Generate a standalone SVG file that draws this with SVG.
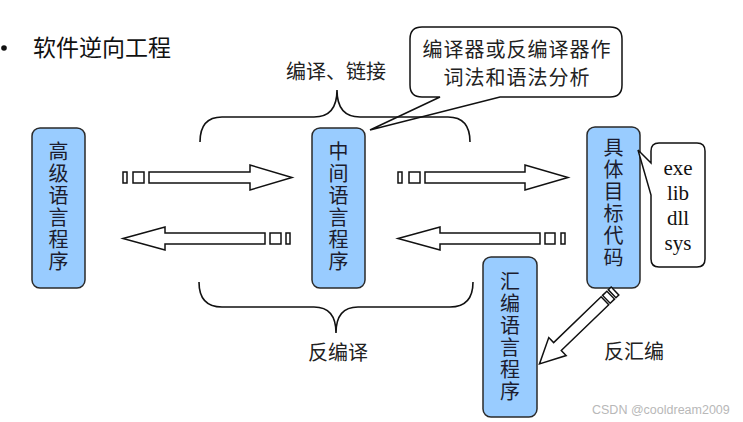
<svg xmlns="http://www.w3.org/2000/svg" width="743" height="422" viewBox="0 0 743 422">
<style>
.node{fill:#99CCFF;stroke:#2a2a2a;stroke-width:1.5}
.nt{font-family:"Noto Sans CJK SC",sans-serif;font-size:20px;fill:#1c1c2e;text-anchor:middle}
.lbl{font-family:"Noto Sans CJK SC",sans-serif;font-size:20px;fill:#222;text-anchor:middle}
.ol{fill:#fff;stroke:#111;stroke-width:1.5;stroke-linejoin:miter}
.br{fill:none;stroke:#111;stroke-width:1.6}
.ser{font-family:"Liberation Serif",serif;font-size:21px;fill:#111;text-anchor:middle}
</style>
<rect width="743" height="422" fill="#fff"/>
<g id="title">
<circle cx="4" cy="48" r="2.8" fill="#111"/>
<text x="33" y="56" style="font-family:'Noto Sans CJK SC',sans-serif;font-size:23px;fill:#111">软件逆向工程</text>
</g>
<g id="node-high">
<rect class="node" x="32" y="128" width="53" height="160" rx="8"/>
<text class="nt"><tspan x="58.5" y="159">高</tspan><tspan x="58.5" y="181">级</tspan><tspan x="58.5" y="203">语</tspan><tspan x="58.5" y="225">言</tspan><tspan x="58.5" y="247">程</tspan><tspan x="58.5" y="269">序</tspan></text>
</g>
<g id="node-mid">
<rect class="node" x="312" y="128" width="53" height="160" rx="8"/>
<text class="nt"><tspan x="338.5" y="159">中</tspan><tspan x="338.5" y="181">间</tspan><tspan x="338.5" y="203">语</tspan><tspan x="338.5" y="225">言</tspan><tspan x="338.5" y="247">程</tspan><tspan x="338.5" y="269">序</tspan></text>
</g>
<g id="node-target">
<rect class="node" x="587" y="127" width="53" height="161" rx="8"/>
<text class="nt"><tspan x="613.5" y="155">具</tspan><tspan x="613.5" y="177">体</tspan><tspan x="613.5" y="199">目</tspan><tspan x="613.5" y="221">标</tspan><tspan x="613.5" y="243">代</tspan><tspan x="613.5" y="265">码</tspan></text>
</g>
<g id="node-asm">
<rect class="node" x="483" y="257" width="54" height="160" rx="8"/>
<text class="nt"><tspan x="510" y="289">汇</tspan><tspan x="510" y="311">编</tspan><tspan x="510" y="333">语</tspan><tspan x="510" y="355">言</tspan><tspan x="510" y="377">程</tspan><tspan x="510" y="399">序</tspan></text>
</g>
<g id="callout-compiler">
<path class="ol" d="M422,27 L610,27 Q622,27 622,39 L622,85 Q622,97 610,97 L500,97 L370,130 L440,97 L422,97 Q410,97 410,85 L410,39 Q410,27 422,27 Z"/>
<text class="lbl" style="letter-spacing:1px"><tspan x="517" y="57">编译器或反编译器作</tspan><tspan x="517" y="85">词法和语法分析</tspan></text>
</g>
<g id="callout-ext">
<path class="ol" d="M659,143 L697,143 Q705,143 705,151 L705,259 Q705,267 697,267 L659,267 Q651,267 651,259 L651,195 L638,150 L651,163 L651,151 Q651,143 659,143 Z"/>
<text class="ser"><tspan x="678" y="175">exe</tspan><tspan x="678" y="200">lib</tspan><tspan x="678" y="225">dll</tspan><tspan x="678" y="250">sys</tspan></text>
</g>
<g id="connectors">
<path class="br" d="M200,142 Q200,117 222,117 L314,117 Q337,117 337,90 Q337,117 360,117 L448,117 Q470,117 470,142"/>
<path class="br" d="M199,282 Q199,307 222,307 L314,307 Q336,307 336,333 Q336,307 358,307 L450,307 Q473,307 473,282"/>
<rect class="ol" x="123" y="172" width="4" height="11"/>
<rect class="ol" x="133" y="172" width="11" height="11"/>
<path class="ol" d="M149,172 L250,172 L250,165 L292,177.5 L250,190 L250,183 L149,183 Z"/>
<path class="ol" d="M123,238.5 L165,227 L165,233 L265,233 L265,244 L165,244 L165,250 Z"/>
<rect class="ol" x="270" y="233" width="11" height="11"/>
<rect class="ol" x="286" y="233" width="4" height="11"/>
<rect class="ol" x="398" y="172" width="4" height="11"/>
<rect class="ol" x="409" y="172" width="11" height="11"/>
<path class="ol" d="M425,172 L525,172 L525,165 L568,177.5 L525,190 L525,183 L425,183 Z"/>
<path class="ol" d="M398,238.5 L440,227 L440,233 L540,233 L540,244 L440,244 L440,250 Z"/>
<rect class="ol" x="545" y="233" width="10" height="11"/>
<rect class="ol" x="561" y="233" width="4" height="11"/>
<g transform="translate(615,291) rotate(136)">
<rect class="ol" x="0" y="-5.5" width="4" height="11"/>
<rect class="ol" x="6" y="-5.5" width="6" height="11"/>
<path class="ol" d="M14,-5.5 L80,-5.5 L80,-12.5 L105,0 L80,12.5 L80,5.5 L14,5.5 Z"/>
</g>
</g>
<g id="labels">
<text class="lbl" x="336" y="79">编译、链接</text>
<text class="lbl" x="338" y="360">反编译</text>
<text class="lbl" x="634" y="359">反汇编</text>
</g>
<text x="592" y="414" style="font-family:'Liberation Sans',sans-serif;font-size:12.5px;fill:#b8b8b8">CSDN @cooldream2009</text>
</svg>
